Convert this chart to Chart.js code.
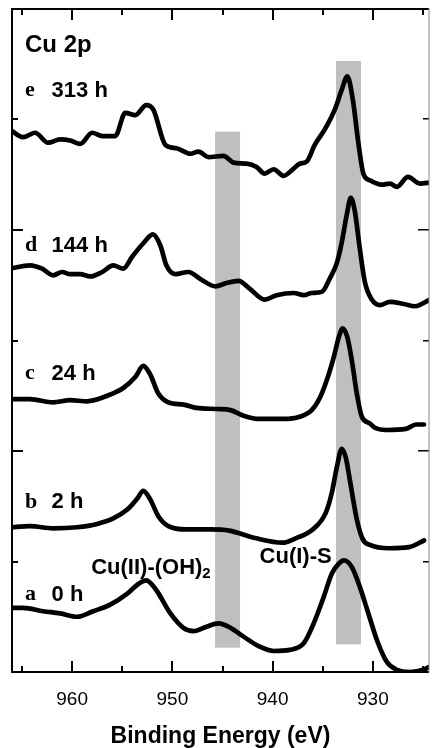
<!DOCTYPE html>
<html>
<head>
<meta charset="utf-8">
<script src="https://cdn.jsdelivr.net/npm/chart.js@4.4.0/dist/chart.umd.min.js"></script>
<style>
  html, body { margin: 0; padding: 0; background: #fff; }
  #wrap { width: 432px; height: 748px; }
</style>
</head>
<body>
<div id="wrap"><canvas id="xps"></canvas></div>
<script>
// Cu 2p spectra after increasing exposure time, stacked with a vertical offset
const energyE = [966.2, 964.9, 963.7, 962.4, 961.2, 960.2, 959.2, 958.0, 957.0, 955.7, 954.7, 953.7, 952.6, 951.9, 950.7, 949.6, 948.2, 947.4, 946.4, 944.9, 943.9, 942.6, 941.6, 940.8, 939.9, 938.9, 938.1, 937.3, 936.6, 935.8, 934.8, 933.8, 933.1, 932.55, 932.0, 931.45, 930.95, 930.3, 929.1, 928.3, 927.6, 926.5, 925.3, 924.3];
const countsE = [4.91, 4.84, 4.88, 4.79, 4.82, 4.81, 4.78, 4.88, 4.85, 4.85, 5.06, 5.04, 5.13, 5.09, 4.77, 4.74, 4.69, 4.71, 4.66, 4.67, 4.61, 4.60, 4.57, 4.51, 4.55, 4.49, 4.54, 4.60, 4.62, 4.77, 4.91, 5.09, 5.27, 5.39, 5.18, 4.79, 4.51, 4.45, 4.41, 4.42, 4.39, 4.48, 4.42, 4.43];

const energyD = [966.2, 964.2, 963.0, 961.9, 961.0, 960.2, 959.2, 958.2, 957.0, 955.9, 954.9, 954.0, 952.9, 951.95, 951.2, 950.6, 949.7, 948.4, 947.1, 945.7, 944.6, 943.4, 942.3, 940.8, 939.6, 937.9, 936.9, 936.1, 935.1, 934.3, 933.6, 933.1, 932.6, 932.2, 931.8, 931.3, 930.8, 930.1, 929.3, 928.3, 926.9, 925.8, 924.3];
const countsD = [3.65, 3.68, 3.65, 3.59, 3.62, 3.60, 3.60, 3.58, 3.62, 3.68, 3.65, 3.76, 3.88, 3.96, 3.86, 3.68, 3.60, 3.62, 3.55, 3.49, 3.52, 3.54, 3.47, 3.37, 3.41, 3.43, 3.41, 3.43, 3.44, 3.56, 3.70, 3.89, 4.14, 4.29, 4.17, 3.83, 3.53, 3.37, 3.32, 3.35, 3.33, 3.31, 3.37];

const energyC = [966.2, 964.2, 961.9, 960.2, 958.5, 956.5, 954.9, 953.7, 952.9, 952.2, 951.4, 950.4, 948.9, 947.6, 945.6, 944.2, 942.9, 941.3, 938.9, 937.3, 936.1, 935.3, 934.6, 933.9, 933.4, 933.0, 932.55, 932.1, 931.6, 931.1, 930.3, 929.8, 928.7, 926.7, 925.7, 924.9];
const countsC = [2.47, 2.47, 2.44, 2.46, 2.45, 2.50, 2.57, 2.67, 2.77, 2.69, 2.52, 2.44, 2.42, 2.39, 2.38, 2.37, 2.32, 2.29, 2.29, 2.31, 2.37, 2.48, 2.64, 2.85, 3.03, 3.11, 3.03, 2.82, 2.52, 2.31, 2.25, 2.21, 2.19, 2.20, 2.24, 2.24];

const energyB = [966.2, 964.2, 961.9, 959.5, 957.5, 955.9, 954.5, 953.5, 952.9, 952.2, 951.4, 950.4, 948.6, 946.2, 944.35, 941.65, 939.0, 937.7, 936.0, 934.7, 934.1, 933.6, 933.1, 932.7, 932.3, 931.6, 931.0, 930.3, 928.4, 926.4, 924.9];
const countsB = [1.31, 1.32, 1.30, 1.31, 1.34, 1.39, 1.47, 1.57, 1.64, 1.56, 1.41, 1.32, 1.29, 1.29, 1.28, 1.21, 1.17, 1.21, 1.29, 1.44, 1.62, 1.85, 2.02, 1.94, 1.74, 1.38, 1.20, 1.15, 1.12, 1.13, 1.19];

const energyA = [966.2, 964.9, 962.9, 961.2, 959.5, 957.9, 956.2, 954.5, 953.5, 952.6, 951.6, 950.2, 948.9, 947.9, 946.6, 945.4, 944.2, 942.9, 941.3, 939.9, 938.3, 936.9, 935.9, 934.9, 934.1, 933.4, 932.9, 932.1, 931.3, 930.45, 929.6, 928.6, 927.6, 926.3, 924.95, 924.3];
const countsA = [0.58, 0.58, 0.55, 0.53, 0.50, 0.55, 0.61, 0.71, 0.79, 0.83, 0.74, 0.53, 0.40, 0.37, 0.41, 0.44, 0.40, 0.32, 0.23, 0.19, 0.20, 0.26, 0.44, 0.68, 0.89, 0.98, 1.01, 0.95, 0.77, 0.53, 0.29, 0.09, 0.02, 0.00, 0.02, 0.05];

// sample tags, exposure times and the offset level each caption sits at
const sampleTags = ['e', 'd', 'c', 'b', 'a'];
const sampleTimes = ['313 h', '144 h', '24 h', '2 h', '0 h'];
const captionLevels = [5.26, 3.86, 2.70, 1.54, 0.70];

// shaded reference energies: [high eV, low eV, bottom, top]
const bands = [
  [945.74, 943.25, 0.22, 4.89],
  [933.68, 931.19, 0.25, 5.53]
];

const xTickValues = [960, 950, 940, 930];
const energyMin = 924.4, energyMax = 966;

const sans = 'Liberation Sans, Arial, Helvetica, sans-serif';
const serif = 'Liberation Serif, Times New Roman, serif';

function toPoints(xs, ys) {
  return xs.map((x, i) => ({ x: x, y: ys[i] }));
}

const spectra = [
  [energyE, countsE], [energyD, countsD], [energyC, countsC], [energyB, countsB], [energyA, countsA]
];

const bandPlugin = {
  id: 'bands',
  beforeDatasetsDraw(chart) {
    const { ctx, scales: { x, y } } = chart;
    ctx.save();
    ctx.fillStyle = '#bfbfbf';
    bands.forEach(b => {
      const x0 = x.getPixelForValue(b[0]);
      const x1 = x.getPixelForValue(b[1]);
      const y0 = y.getPixelForValue(b[3]);
      const y1 = y.getPixelForValue(b[2]);
      ctx.fillRect(x0, y0, x1 - x0, y1 - y0);
    });
    ctx.restore();
  }
};

// box around the plot with inward ticks on all four sides, plus captions
const framePlugin = {
  id: 'frame',
  afterDraw(chart) {
    const { ctx, chartArea: a } = chart;
    const xs = chart.scales.x, ys = chart.scales.y;
    ctx.save();
    ctx.fillStyle = '#000';

    // minor every 5 eV, major every 10 eV
    const xStart = Math.ceil(energyMin / 5) * 5;
    for (let v = xStart; v <= energyMax; v += 5) {
      const px = Math.round(xs.getPixelForValue(v));
      const len = v % 10 === 0 ? 11 : 6;
      ctx.fillRect(px - 1, a.bottom - len, 2, len);
      ctx.fillRect(px - 1, a.top, 2, len);
    }
    for (let v = 1; v < 6; v += 1) {
      const py = Math.round(ys.getPixelForValue(v));
      const len = v % 2 === 0 ? 11 : 6;
      ctx.fillRect(a.left, py - 1, len, 2);
      ctx.fillRect(a.right - len, py - 1, len, 1.5);
    }

    // frame: heavy left, top and bottom, light right edge
    ctx.fillRect(a.left - 1, a.top - 1, a.right - a.left + 1, 2);
    ctx.fillRect(a.left - 1, a.bottom - 1, a.right - a.left + 1, 2);
    ctx.fillRect(a.left - 1, a.top - 1, 2, a.bottom - a.top + 2);
    ctx.fillStyle = '#8a8a8a';
    ctx.fillRect(a.right - 0.5, a.top - 1, 1, a.bottom - a.top + 2);

    ctx.fillStyle = '#000';
    ctx.textBaseline = 'middle';
    ctx.textAlign = 'left';
    ctx.font = 'bold 24px ' + sans;
    ctx.fillText('Cu 2p', xs.getPixelForValue(964.7), ys.getPixelForValue(5.67));

    sampleTags.forEach((tag, i) => {
      const py = ys.getPixelForValue(captionLevels[i]);
      ctx.font = 'bold 22px ' + serif;
      ctx.fillText(tag, xs.getPixelForValue(964.7), py);
      ctx.font = 'bold 22px ' + sans;
      ctx.fillText(sampleTimes[i], xs.getPixelForValue(962.05), py);
    });

    // peak assignments
    ctx.font = 'bold 22px ' + sans;
    const ohX = xs.getPixelForValue(958.1);
    const ohY = ys.getPixelForValue(0.945);
    ctx.fillText('Cu(II)-(OH)', ohX, ohY);
    const w = ctx.measureText('Cu(II)-(OH)').width;
    ctx.font = 'bold 15px ' + sans;
    ctx.fillText('2', ohX + w, ohY + 6);
    ctx.font = 'bold 22px ' + sans;
    ctx.fillText('Cu(I)-S', xs.getPixelForValue(941.3), ys.getPixelForValue(1.04));
    ctx.restore();
  }
};

new Chart(document.getElementById('xps'), {
  type: 'line',
  data: {
    datasets: spectra.map((s, i) => ({
      label: sampleTags[i],
      data: toPoints(s[0], s[1]),
      borderColor: '#000',
      borderWidth: 4.7,
      borderCapStyle: 'round',
      borderJoinStyle: 'round',
      pointRadius: 0,
      fill: false,
      cubicInterpolationMode: 'monotone'
    }))
  },
  plugins: [bandPlugin, framePlugin],
  options: {
    responsive: true,
    maintainAspectRatio: false,
    animation: false,
    layout: { padding: { left: 12, right: 3, top: 9, bottom: 0 } },
    plugins: { legend: { display: false }, tooltip: { enabled: false } },
    scales: {
      x: {
        type: 'linear',
        reverse: true,
        min: energyMin,
        max: energyMax,
        border: { display: false },
        grid: { display: false, drawTicks: false },
        afterFit: scale => { scale.paddingLeft = 0; scale.paddingRight = 0; },
        ticks: {
          stepSize: 5,
          includeBounds: false,
          autoSkip: false,
          maxRotation: 0,
          padding: 16.6,
          color: '#000',
          font: { family: sans, size: 19 },
          callback: v => xTickValues.includes(v) ? String(v) : ''
        },
        title: {
          display: true,
          text: 'Binding Energy (eV)',
          color: '#000',
          font: { family: sans, size: 23, weight: 'bold' },
          padding: { top: -5.6, bottom: -2 }
        }
      },
      y: {
        display: false,
        min: 0,
        max: 6,
        ticks: { stepSize: 1 }
      }
    }
  }
});
</script>
</body>
</html>
